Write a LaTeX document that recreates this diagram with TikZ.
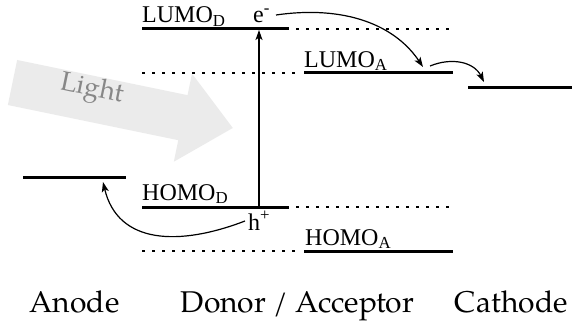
\documentclass[tikz,border=0pt]{standalone}
\usepackage{fontspec}
\setmainfont{Liberation Serif}
\newfontfamily\palfont{TeX Gyre Pagella}
\usetikzlibrary{arrows.meta}

\begin{document}
\begin{tikzpicture}[x=1pt,y=-1pt,
  level/.style={line width=3pt},
  ghost/.style={line width=2.8pt, dash pattern=on 2.8pt off 7.2pt},
  lbl/.style={anchor=base west, inner sep=0pt, font=\fontsize{24}{28}\selectfont},
  side/.style={anchor=base, inner sep=0pt, font=\palfont\fontsize{30}{36}\selectfont},
  flow/.style={line width=1.2pt, -{Stealth[length=10pt,width=7pt,inset=2.5pt]}},
]
\useasboundingbox (0,0) rectangle (576,321);

% incoming light
\begin{scope}[shift={(12.5,82.5)}, rotate=-11.66]
  \fill[black!8] (0,-23) -- (174,-23) -- (174,-45) -- (225,0) -- (174,45)
    -- (174,23) -- (0,23) -- cycle;
\end{scope}
\node[rotate=-11.66, text=black!47, inner sep=0pt, font=\palfont\fontsize{27}{32}\selectfont]
  (light) at (92,90) {Light};

% electrode levels
\coordinate (anL) at (23,177);  \coordinate (anR) at (126,177);
\coordinate (caL) at (468,88);  \coordinate (caR) at (572,88);
\draw[level] (anL) -- (anR);
\draw[level] (caL) -- (caR);

% donor levels
\coordinate (ldL) at (142,29);  \coordinate (ldR) at (289,29);
\coordinate (hdL) at (142,207); \coordinate (hdR) at (289,207);
\draw[level] (ldL) -- (ldR);
\draw[level] (hdL) -- (hdR);
\draw[ghost] (296,29) -- (454,29);
\draw[ghost] (296,207) -- (454,207);

% acceptor levels
\coordinate (laL) at (304,73);  \coordinate (laR) at (453,73);
\coordinate (haL) at (304,251); \coordinate (haR) at (453,251);
\draw[level] (laL) -- (laR);
\draw[level] (haL) -- (haR);
\draw[ghost] (142,73) -- (300,73);
\draw[ghost] (142,251) -- (300,251);

% level labels
\node[lbl] (lumoD) at (142,23) {LUMO\textsubscript{D}};
\node[lbl] (homoD) at (142,200) {HOMO\textsubscript{D}};
\node[lbl] (lumoA) at (304,67) {LUMO\textsubscript{A}};
\node[lbl] (homoA) at (305,245) {HOMO\textsubscript{A}};

% charges
\node[lbl] (elec) at (253,23) {e\textsuperscript{-}};
\node[lbl] (hole) at (248,230) {h\textsuperscript{+}};

% excitation and charge transfer
\coordinate (exFrom) at (259,207);
\coordinate (exTo) at (259,30);
\draw[flow] (exFrom) -- (exTo);

\coordinate (eStart) at (276,15);
\coordinate (eEnd) at (423,67);
\draw[flow] (eStart) .. controls (345,5) and (395,25) .. (eEnd);

\coordinate (cStart) at (430,66);
\coordinate (cEnd) at (484,82);
\draw[flow] (cStart) .. controls (452,57) and (474,62) .. (cEnd);

\coordinate (hStart) at (245,221);
\coordinate (hEnd) at (103,182);
\draw[flow] (hStart) .. controls (180,246) and (118,245) .. (hEnd);

% electrode / layer names
\node[side] (anode) at (74.5,312) {Anode};
\node[side] (da) at (297.5,312) {Donor / Acceptor};
\node[side] (cathode) at (511.5,312) {Cathode};
\end{tikzpicture}
\end{document}
